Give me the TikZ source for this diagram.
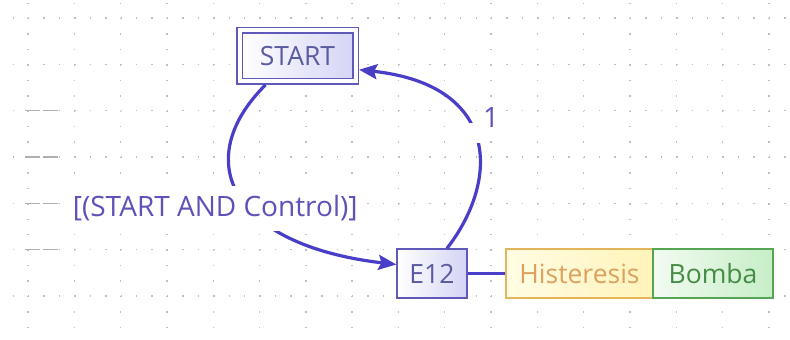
\documentclass[tikz,border=0pt]{standalone}
\usepackage{fontspec}
\setmainfont{Open Sans}
\usetikzlibrary{arrows.meta}

\definecolor{wire}{RGB}{72,62,200}
\definecolor{stateedge}{RGB}{95,90,185}
\definecolor{statetext}{RGB}{90,90,160}
\definecolor{statefill}{RGB}{212,212,246}
\definecolor{condtext}{RGB}{92,82,185}
\definecolor{hysedge}{RGB}{228,180,90}
\definecolor{hystext}{RGB}{220,160,95}
\definecolor{hyslight}{RGB}{255,252,228}
\definecolor{hysfill}{RGB}{255,244,185}
\definecolor{pumpedge}{RGB}{85,165,85}
\definecolor{pumptext}{RGB}{70,140,70}
\definecolor{pumplight}{RGB}{242,251,242}
\definecolor{pumpfill}{RGB}{198,238,198}
\definecolor{griddot}{RGB}{192,192,192}
\definecolor{gridmark}{RGB}{175,175,175}

\begin{document}
\begin{tikzpicture}[x=1pt,y=-1pt,
  nodetxt/.style={font=\fontsize{26.5}{31}\selectfont},
  condtxt/.style={font=\fontsize{28}{33}\selectfont, text=condtext},
  statebox/.style={draw=stateedge, line width=1.3pt, left color=white,
    right color=statefill, text=statetext, nodetxt, inner sep=0pt},
  actbox/.style={line width=1.3pt, inner sep=0pt, minimum height=49pt, nodetxt},
  wire/.style={draw=wire, line width=3.2pt},
  flow/.style={wire, -{Stealth[length=18pt,width=15pt,inset=3pt]}},
  condlabel/.style={condtxt, fill=white, inner xsep=2pt, inner ysep=10pt},
  gapmask/.style={fill=white, inner sep=0pt, minimum width=14pt, minimum height=20pt},
  numlabel/.style={condtxt, anchor=center, xshift=9pt, yshift=16pt},
]
% canvas
\fill[white] (0,0) rectangle (790,340);
\useasboundingbox (0,0) rectangle (790,340);

% dotted editor grid
\foreach \k in {0,...,7}{
  \draw[griddot, line width=1.4pt, dash pattern=on 1.4pt off 14.033pt]
    (-2.9,18+46.3*\k) -- (792,18+46.3*\k);
}
\foreach \k in {0,...,16}{
  \draw[griddot, line width=1.4pt, dash pattern=on 1.4pt off 14.033pt]
    (28+46.3*\k,-12.9) -- (28+46.3*\k,342);
}
% rung marks on the left margin
\foreach \k in {2,...,5}{
  \draw[gridmark, line width=1.2pt, dash pattern=on 15pt off 3pt]
    (25,18+46.3*\k) -- (58,18+46.3*\k);
}

% steps and actions
\node[statebox, double=white, double distance=4pt,
      minimum width=116pt, minimum height=51pt] (start) at (297.5,55.75) {START};
\node[statebox, minimum width=70pt, minimum height=49pt] (e12) at (432,273.5) {E12};
\node[actbox, draw=hysedge, left color=hyslight, right color=hysfill,
      text=hystext, minimum width=147pt] (hys) at (579.5,273.5) {Histeresis};
\node[actbox, draw=pumpedge, left color=pumplight, right color=pumpfill,
      text=pumptext, minimum width=120pt] (pump) at (713,273.5) {Bomba};

% action link
\draw[wire] (e12) -- (hys);

% transitions
\draw[flow] ([xshift=-32pt,yshift=-3pt]start.south)
  .. controls (190,160) and (230,245) .. ([yshift=9pt]e12.west)
  node[condlabel, pos=0.5, xshift=-25pt, yshift=-13pt] (cond) {[(START AND Control)]};
\draw[flow] ([xshift=15pt]e12.north)
  .. controls (500,180) and (500,85) .. ([xshift=3pt,yshift=-14pt]start.east)
  node[gapmask, pos=0.53, label={[numlabel]right:1}] (back) {};
\end{tikzpicture}
\end{document}
